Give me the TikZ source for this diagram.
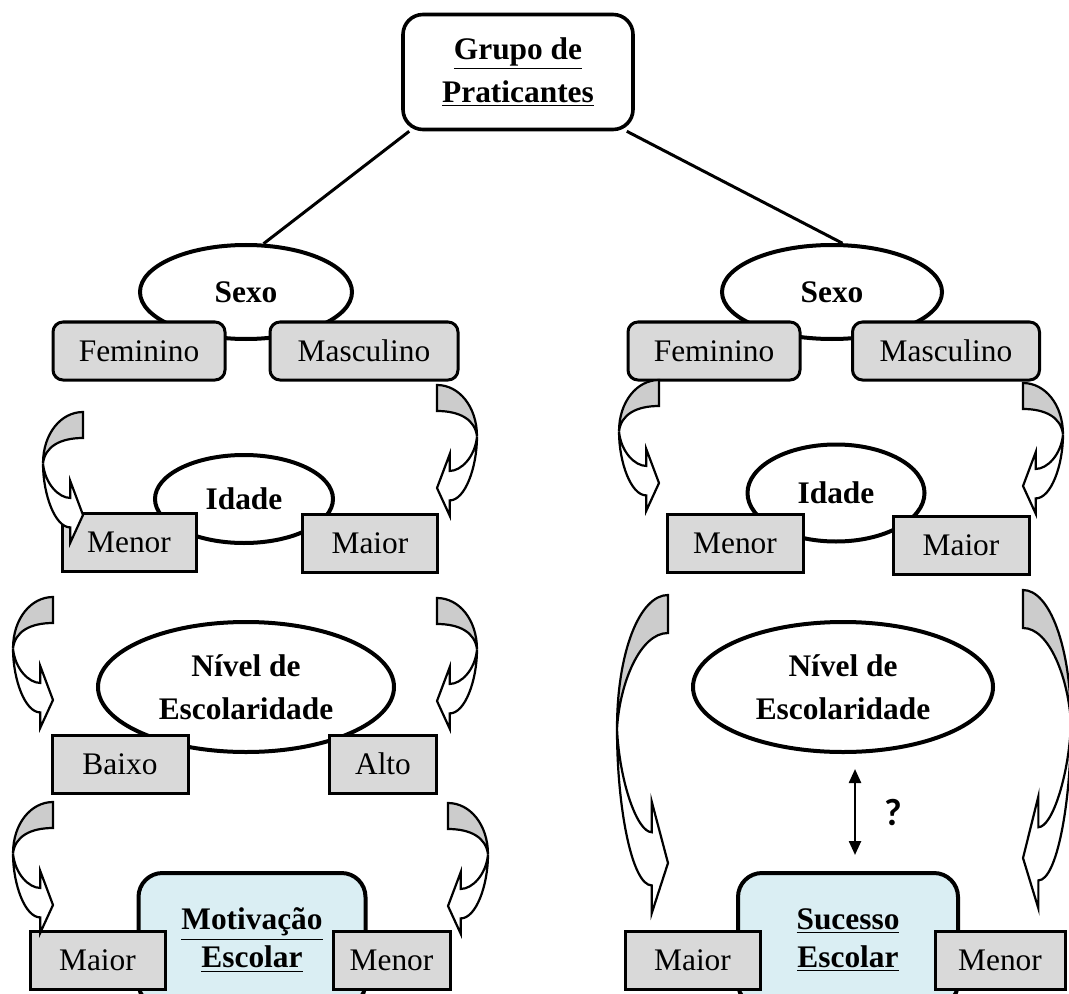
\documentclass[tikz,border=0pt]{standalone}
\usepackage{fontspec}
\setmainfont{Liberation Serif}
\newfontfamily\qfont{Carlito}
\usetikzlibrary{shapes.geometric,arrows.meta}
\definecolor{boxgray}{HTML}{D9D9D9}
\definecolor{facegray}{HTML}{CCCCCC}
\definecolor{goalblue}{HTML}{DAEEF3}
\begin{document}
\begin{tikzpicture}[
  x=0.5pt, y=-0.5pt,
  font=\fontsize{15.7}{21}\selectfont,
  root/.style={draw, line width=1.8pt, rounded corners=10pt, fill=white, align=center,
               inner sep=0pt, font=\fontsize{15.7}{21.5}\selectfont\bfseries},
  var/.style={draw, ellipse, line width=2pt, fill=white, align=center, inner sep=0pt,
              font=\fontsize{15.7}{21.5}\selectfont\bfseries},
  cat/.style={draw, line width=1.5pt, rounded corners=5pt, fill=boxgray, inner sep=0pt,
              minimum height=29pt},
  lvl/.style={draw, line width=1.5pt, fill=boxgray, inner sep=0pt, minimum height=29pt},
  goal/.style={draw, line width=2pt, rounded corners=12pt, fill=goalblue, align=center,
               inner sep=0pt, font=\fontsize{15.7}{19}\selectfont\bfseries},
  link/.style={line width=1.5pt},
  arrowline/.style={line width=1.1pt, line join=miter},
  twohead/.style={{Triangle[length=7pt,width=6pt]}-{Triangle[length=7pt,width=6pt]}, line width=1.2pt},
  pics/bendarrow/.style n args={4}{code={
    % #1 tip depth, #2 bend width, #3 face, #4 half head
    \filldraw[arrowline, fill=facegray] (0,0) .. controls ({-0.55*#2},0) and ({-#2},{0.21*#1}) .. ({-#2},{0.5*#1})
      .. controls ({-0.95*#2},{0.33*#1}) and ({-0.55*#2},#3) .. (0,#3) -- cycle;
    \filldraw[arrowline, fill=white] ({-#2},{0.5*#1}) .. controls ({-#2},{0.8*#1}) and ({-0.7*#2},{#1+0.4*#4}) .. ({-0.32*#2},{#1+0.4*#4})
      -- ({-0.32*#2},{#1+0.9*#4}) -- (0,#1) -- ({-0.32*#2},{#1-1.1*#4}) -- ({-0.32*#2},{#1-0.55*#4})
      .. controls ({-0.6*#2},{#1-0.55*#4}) and ({-0.95*#2},{0.7*#1}) .. ({-#2},{0.5*#1});
  }},
]
\useasboundingbox (0,0) rectangle (1069,994);

\node[root, minimum width=115pt, minimum height=57.5pt] (root) at (518,72) {\underline{Grupo de}\\\underline{Praticantes}};

% left branch
\node[var, minimum width=106pt, minimum height=47pt] (sexL) at (246,292) {Sexo};
\node[var, minimum width=89pt, minimum height=44pt] (ageL) at (244,499) {Idade};
\node[var, minimum width=148pt, minimum height=65pt] (escL) at (246,687) {N\'ivel de\\Escolaridade};

\node[cat, minimum width=86pt] (femL) at (139,351) {Feminino};
\node[cat, minimum width=94pt] (mascL) at (364,351) {Masculino};
\node[lvl, minimum width=67pt] (menL) at (129,542) {Menor};
\node[lvl, minimum width=67.5pt] (maiL) at (370,543) {Maior};
\node[lvl, minimum width=68pt] (baiL) at (120,764) {Baixo};
\node[lvl, minimum width=53.5pt] (altL) at (383,764) {Alto};

\node[goal, minimum width=113.5pt, minimum height=67pt] (motiv) at (252,940) {\underline{Motiva\c{c}\~ao}\\\underline{Escolar}};
\node[lvl, minimum width=67.5pt] (maiBL) at (97.5,960) {Maior};
\node[lvl, minimum width=58.5pt] (menBL) at (391.5,960) {Menor};

% right branch
\node[var, minimum width=110pt, minimum height=47pt] (sexR) at (832,292) {Sexo};
\node[var, minimum width=88.5pt, minimum height=48.5pt] (ageR) at (836,493) {Idade};
\node[var, minimum width=150pt, minimum height=65pt] (escR) at (843,687) {N\'ivel de\\Escolaridade};

\node[cat, minimum width=86pt] (femR) at (714,351) {Feminino};
\node[cat, minimum width=93.5pt] (mascR) at (946,351) {Masculino};
\node[lvl, minimum width=68pt] (menR) at (735,543) {Menor};
\node[lvl, minimum width=68pt] (maiR) at (961,545) {Maior};

\node[goal, minimum width=110pt, minimum height=67pt] (suc) at (848,940) {\underline{Sucesso}\\\underline{Escolar}};
\node[lvl, minimum width=67.5pt] (maiBR) at (692.5,960) {Maior};
\node[lvl, minimum width=65pt] (menBR) at (1000,960) {Menor};

\draw[link] ([xshift=4pt]root.south west) -- (sexL.70);
\draw[link] ([xshift=-4pt]root.south east) -- (sexR.78);

\coordinate (qx) at (855,0);
\draw[twohead, shorten <=7.5pt, shorten >=8pt] (escR.south -| qx) -- (suc.north -| qx)
  node[midway, right=11pt, font=\qfont\bfseries\fontsize{19}{21}\selectfont] (qm) {?};

% bent arrows
\pic at (83,412) {bendarrow={103}{40}{26}{31}};
\pic[xscale=-1] at (437,385) {bendarrow={103}{40}{26}{31}};
\pic at (53,597) {bendarrow={103}{40}{26}{31}};
\pic[xscale=-1] at (437,598) {bendarrow={103}{40}{26}{31}};
\pic at (53,802) {bendarrow={103}{40}{26}{31}};
\pic[xscale=-1] at (448,803) {bendarrow={103}{40}{26}{31}};
\pic at (659,380) {bendarrow={103}{40}{26}{31}};
\pic[xscale=-1] at (1023,383) {bendarrow={103}{40}{26}{31}};
\pic at (668,595) {bendarrow={268}{51}{38}{56}};
\pic[xscale=-1] at (1023,590) {bendarrow={268}{48}{38}{56}};
\end{tikzpicture}
\end{document}
